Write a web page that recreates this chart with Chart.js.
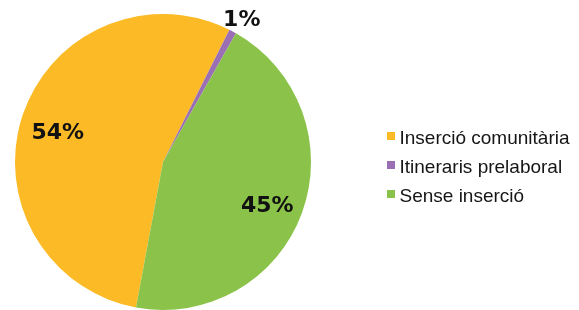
<!DOCTYPE html>
<html><head><meta charset="utf-8">
<script src="https://cdn.jsdelivr.net/npm/chart.js@4/dist/chart.umd.min.js"></script>
<style>html,body{margin:0;padding:0;background:#fff;}canvas{display:block;}</style>
</head><body>
<canvas id="c" width="579" height="310"></canvas>
<script>
const categories = ['Inserció comunitària', 'Itineraris prelaboral', 'Sense inserció'];
const values = [54.49, 0.8, 44.71];
const colors = ['#FCBA26', '#9B6FB3', '#8BC34A'];

function markerImage(color) {
  const c = document.createElement('canvas');
  c.width = 20; c.height = 20;
  const g = c.getContext('2d');
  g.fillStyle = color;
  g.fillRect(8, 3, 8, 8);
  return c;
}
const markers = colors.map(markerImage);

const layoutFix = {
  id: 'layoutFix',
  afterLayout(chart) {
    const ca = chart.chartArea;
    ca.left = 15; ca.top = 14; ca.right = 311; ca.bottom = 310; ca.width = 296; ca.height = 296;
    const lg = chart.legend;
    const w = lg.width, h = lg.height;
    lg.left = 378; lg.right = 378 + w; lg.top = 119.5; lg.bottom = 119.5 + h;
  }
};

const pctLabels = {
  id: 'pctLabels',
  afterDatasetsDraw(chart) {
    const ctx = chart.ctx;
    const meta = chart.getDatasetMeta(0);
    const data = chart.data.datasets[0].data;
    const total = data.reduce((a, b) => a + b, 0);
    meta.data.forEach((arc, i) => {
      const p = arc.getProps(['x', 'y', 'startAngle', 'endAngle', 'outerRadius'], true);
      const mid = (p.startAngle + p.endAngle) / 2;
      const pct = data[i] / total * 100;
      const f = pct < 5 ? 1.13 : 0.75;
      const x = p.x + Math.cos(mid) * p.outerRadius * f;
      const y = p.y + Math.sin(mid) * p.outerRadius * f + 4;
      ctx.save();
      ctx.font = 'bold 22px "DejaVu Sans"';
      ctx.fillStyle = '#111111';
      ctx.textAlign = 'center';
      ctx.textBaseline = 'alphabetic';
      ctx.fillText(Math.round(pct) + '%', x, y + 8);
      ctx.restore();
    });
  }
};

new Chart(document.getElementById('c'), {
  type: 'pie',
  data: {
    labels: categories,
    datasets: [{ data: values, backgroundColor: colors, borderWidth: 0 }]
  },
  options: {
    responsive: false,
    animation: false,
    rotation: 190.5,
    plugins: {
      tooltip: { enabled: false },
      legend: {
        position: 'right',
        align: 'start',
        labels: {
          usePointStyle: true,
          pointStyleWidth: 2,
          padding: 10,
          color: '#151515',
          font: { family: '"Liberation Sans"', size: 19 },
          generateLabels(chart) {
            const items = Chart.overrides.pie.plugins.legend.labels.generateLabels(chart);
            items.forEach((it, i) => { it.pointStyle = markers[i]; });
            return items;
          }
        }
      }
    }
  },
  plugins: [layoutFix, pctLabels]
});
</script>
</body></html>
